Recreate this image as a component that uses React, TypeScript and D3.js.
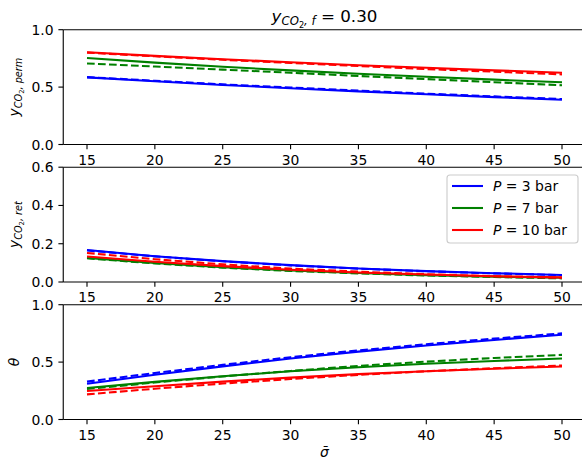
import React from "react";
import * as d3 from "d3";

const sigma = [15, 20, 25, 30, 35, 40, 45, 50];

// Panel 1: y_CO2,perm
const permP3Solid = [0.585, 0.551, 0.519, 0.49, 0.463, 0.437, 0.413, 0.39];
const permP3Dashed = [0.587, 0.555, 0.524, 0.496, 0.469, 0.443, 0.419, 0.396];
const permP7Solid = [0.753, 0.713, 0.677, 0.646, 0.617, 0.59, 0.565, 0.542];
const permP7Dashed = [0.706, 0.679, 0.652, 0.625, 0.597, 0.57, 0.543, 0.516];
const permP10Solid = [0.803, 0.772, 0.743, 0.716, 0.691, 0.668, 0.646, 0.625];
const permP10Dashed = [0.8, 0.768, 0.738, 0.71, 0.684, 0.657, 0.634, 0.611];

// Panel 2: y_CO2,ret
const retP3Solid = [0.167, 0.135, 0.109, 0.088, 0.071, 0.057, 0.046, 0.037];
const retP3Dashed = [0.165, 0.134, 0.108, 0.087, 0.07, 0.056, 0.045, 0.036];
const retP7Solid = [0.126, 0.099, 0.077, 0.06, 0.047, 0.036, 0.028, 0.022];
const retP7Dashed = [0.124, 0.097, 0.075, 0.058, 0.045, 0.034, 0.026, 0.019];
const retP10Solid = [0.133, 0.106, 0.083, 0.064, 0.05, 0.039, 0.03, 0.024];
const retP10Dashed = [0.152, 0.119, 0.092, 0.07, 0.054, 0.041, 0.03, 0.022];

// Panel 3: theta
const thetaP3Solid = [0.312, 0.39, 0.463, 0.531, 0.591, 0.644, 0.693, 0.738];
const thetaP3Dashed = [0.33, 0.405, 0.476, 0.543, 0.602, 0.656, 0.705, 0.75];
const thetaP7Solid = [0.274, 0.328, 0.377, 0.42, 0.455, 0.485, 0.51, 0.531];
const thetaP7Dashed = [0.265, 0.322, 0.375, 0.423, 0.467, 0.504, 0.536, 0.563];
const thetaP10Solid = [0.248, 0.29, 0.33, 0.365, 0.395, 0.42, 0.442, 0.461];
const thetaP10Dashed = [0.219, 0.268, 0.313, 0.353, 0.389, 0.42, 0.447, 0.47];

const xTicks = [15, 20, 25, 30, 35, 40, 45, 50];
const yTicksUnit = [0, 0.5, 1];
const yTicksRet = [0, 0.2, 0.4, 0.6];
const legendLabels = ["3", "7", "10"];
const seriesColors = ["#0000ff", "#008000", "#ff0000"];

const FONT = "DejaVu Sans, sans-serif";
const FS = 13.9;

const panels = [
  {
    ymax: 1,
    ticks: yTicksUnit,
    fmt: (v: number) => v.toFixed(1),
    series: [
      [permP3Solid, permP3Dashed],
      [permP7Solid, permP7Dashed],
      [permP10Solid, permP10Dashed],
    ],
    label: "perm",
  },
  {
    ymax: 0.6,
    ticks: yTicksRet,
    fmt: (v: number) => v.toFixed(1),
    series: [
      [retP3Solid, retP3Dashed],
      [retP7Solid, retP7Dashed],
      [retP10Solid, retP10Dashed],
    ],
    label: "ret",
  },
  {
    ymax: 1,
    ticks: yTicksUnit,
    fmt: (v: number) => v.toFixed(1),
    series: [
      [thetaP3Solid, thetaP3Dashed],
      [thetaP7Solid, thetaP7Dashed],
      [thetaP10Solid, thetaP10Dashed],
    ],
    label: "theta",
  },
];

const LEFT = 63.25;
const RIGHT = 585.75;
const TOP0 = 29.7;
const PH = 114.8;
const STEP = 137.5;

function YLabel({ x, y, sub }: { x: number; y: number; sub: string | null }) {
  if (sub === null) {
    return (
      <text
        transform={`translate(${x},${y}) rotate(-90)`}
        textAnchor="middle"
        fontFamily={FONT}
        fontSize={FS}
        fontStyle="italic"
      >
        θ
      </text>
    );
  }
  const s1 = FS * 0.7;
  const s2 = FS * 0.49;
  return (
    <text
      transform={`translate(${x},${y}) rotate(-90)`}
      textAnchor="middle"
      fontFamily={FONT}
      fontSize={FS}
      fontStyle="italic"
    >
      <tspan>y</tspan>
      <tspan fontSize={s1} dy={FS * 0.22}>CO</tspan>
      <tspan fontSize={s2} dy={FS * 0.14} fontStyle="normal">2</tspan>
      <tspan fontSize={s1} dy={-FS * 0.14}>{", " + sub}</tspan>
    </text>
  );
}

export default function App() {
  const x = d3.scaleLinear().domain([13.25, 51.75]).range([LEFT, RIGHT]);

  return (
    <svg
      width={582}
      height={462}
      style={{ position: "absolute", left: 0, top: 0, background: "#fff" }}
    >
      <rect x={0} y={0} width={582} height={462} fill="#fff" />
      {panels.map((p, i) => {
        const top = TOP0 + i * STEP;
        const bottom = top + PH;
        const y = d3.scaleLinear().domain([0, p.ymax]).range([bottom, top]);
        const line = d3
          .line<number>()
          .x((_, k) => x(sigma[k]))
          .y((d) => y(d));
        return (
          <g key={i}>
            <defs>
              <clipPath id={`clip${i}`}>
                <rect x={LEFT} y={top} width={RIGHT - LEFT} height={PH} />
              </clipPath>
            </defs>
            <g clipPath={`url(#clip${i})`}>
              {p.series.map((pair, j) => (
                <g key={j}>
                  <path
                    d={line(pair[0]) || ""}
                    fill="none"
                    stroke={seriesColors[j]}
                    strokeWidth={2.08}
                  />
                  <path
                    d={line(pair[1]) || ""}
                    fill="none"
                    stroke={seriesColors[j]}
                    strokeWidth={2.08}
                    strokeDasharray="7.7,3.3"
                  />
                </g>
              ))}
            </g>
            {/* spines */}
            <line x1={LEFT} x2={LEFT} y1={top} y2={bottom} stroke="#000" strokeWidth={1.11} />
            <line x1={LEFT} x2={RIGHT} y1={top} y2={top} stroke="#000" strokeWidth={1.11} />
            <line x1={LEFT} x2={RIGHT} y1={bottom} y2={bottom} stroke="#000" strokeWidth={1.11} />
            <line x1={RIGHT} x2={RIGHT} y1={top} y2={bottom} stroke="#000" strokeWidth={1.11} />
            {/* x ticks */}
            {xTicks.map((t) => (
              <g key={t}>
                <line x1={x(t)} x2={x(t)} y1={bottom} y2={bottom + 4.86} stroke="#000" strokeWidth={1.11} />
                <text
                  x={x(t)}
                  y={bottom + 4.86 + 4.86 + 10.3}
                  textAnchor="middle"
                  fontFamily={FONT}
                  fontSize={FS}
                >
                  {t}
                </text>
              </g>
            ))}
            {/* y ticks */}
            {p.ticks.map((t) => (
              <g key={t}>
                <line x1={LEFT - 4.86} x2={LEFT} y1={y(t)} y2={y(t)} stroke="#000" strokeWidth={1.11} />
                <text
                  x={LEFT - 4.86 - 4.86}
                  y={y(t) + 5}
                  textAnchor="end"
                  fontFamily={FONT}
                  fontSize={FS}
                >
                  {p.fmt(t)}
                </text>
              </g>
            ))}
            <YLabel
              x={19}
              y={(top + bottom) / 2}
              sub={p.label === "theta" ? null : p.label}
            />
          </g>
        );
      })}

      {/* Legend in panel 2 */}
      {(() => {
        const lx = 447;
        const ly = 175;
        return (
          <g>
            <rect
              x={lx}
              y={ly}
              width={131}
              height={68}
              rx={3}
              fill="#fff"
              fillOpacity={0.8}
              stroke="#cccccc"
              strokeWidth={1.11}
            />
            {legendLabels.map((lab, j) => {
              const cy = ly + 11 + j * 22;
              return (
                <g key={lab}>
                  <line x1={lx + 5} x2={lx + 36} y1={cy} y2={cy} stroke={seriesColors[j]} strokeWidth={2.08} />
                  <text x={lx + 46} y={cy + 5} fontFamily={FONT} fontSize={FS}>
                    <tspan fontStyle="italic">P</tspan>
                    <tspan>{` = ${lab} bar`}</tspan>
                  </text>
                </g>
              );
            })}
          </g>
        );
      })()}

      {/* Title */}
      <text x={(LEFT + RIGHT) / 2} y={21.7} textAnchor="middle" fontFamily={FONT} fontSize={16.7}>
        <tspan fontStyle="italic">y</tspan>
        <tspan fontStyle="italic" fontSize={11.7} dy={3.7}>CO</tspan>
        <tspan fontSize={8.2} dy={2.3}>2</tspan>
        <tspan fontStyle="italic" fontSize={11.7} dy={-2.3}>, f</tspan>
        <tspan dy={-3.7}>{" = 0.30"}</tspan>
      </text>

      {/* x label */}
      <text x={(LEFT + RIGHT) / 2} y={457} textAnchor="middle" fontFamily={FONT} fontSize={FS} fontStyle="italic">
        σ̄
      </text>
    </svg>
  );
}
